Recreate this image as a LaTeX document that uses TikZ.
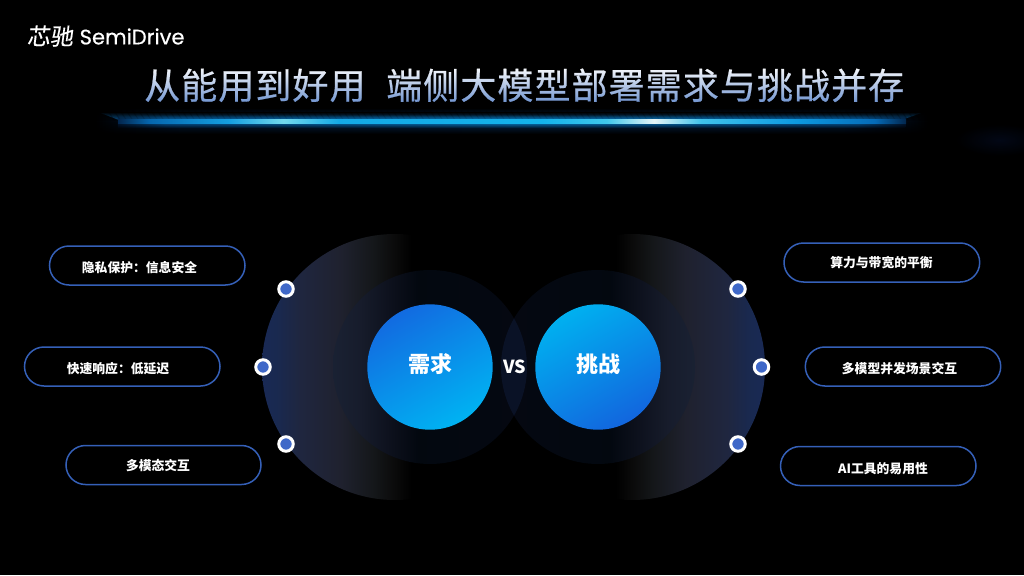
\documentclass[tikz,border=0pt]{standalone}
\usepackage{fontspec}
\setmainfont{Noto Sans CJK SC}
\newfontfamily\latinlogo[FakeBold=0.5]{Poppins}
\newfontfamily\brushlogo[FakeSlant=0.12,FakeBold=0.3]{Noto Sans CJK SC}
\newfontfamily\titlefont[FakeBold=0.6,LetterSpace=3]{Noto Sans CJK SC}
\usetikzlibrary{fadings,shadings}
\definecolor{pillblue}{HTML}{3560B8}
\definecolor{dotblue}{HTML}{3F68C8}
\pgfdeclarehorizontalshading{bigL}{100bp}{
  rgb(0bp)=(0.10,0.16,0.33);
  rgb(25bp)=(0.10,0.16,0.33);
  rgb(28bp)=(0.10,0.16,0.31);
  rgb(32bp)=(0.12,0.15,0.25);
  rgb(40bp)=(0.12,0.13,0.18);
  rgb(46bp)=(0.08,0.09,0.10);
  rgb(50bp)=(0.04,0.04,0.04);
  rgb(53bp)=(0,0,0);
  rgb(100bp)=(0,0,0)}
\pgfdeclarehorizontalshading{bigR}{100bp}{
  rgb(0bp)=(0,0,0);
  rgb(47bp)=(0,0,0);
  rgb(50bp)=(0.04,0.04,0.04);
  rgb(54bp)=(0.08,0.09,0.10);
  rgb(60bp)=(0.12,0.13,0.18);
  rgb(68bp)=(0.12,0.15,0.25);
  rgb(72bp)=(0.10,0.16,0.31);
  rgb(75bp)=(0.10,0.16,0.33);
  rgb(100bp)=(0.10,0.16,0.33)}
\pgfdeclarehorizontalshading{midL}{100bp}{
  rgb(0bp)=(0.10,0.13,0.20);
  rgb(25bp)=(0.10,0.13,0.20);
  rgb(32bp)=(0.09,0.11,0.17);
  rgb(40bp)=(0.05,0.065,0.11);
  rgb(47bp)=(0.01,0.03,0.06);
  rgb(75bp)=(0.02,0.03,0.07);
  rgb(100bp)=(0.02,0.03,0.07)}
\pgfdeclarehorizontalshading{midR}{100bp}{
  rgb(0bp)=(0.02,0.03,0.07);
  rgb(25bp)=(0.02,0.03,0.07);
  rgb(53bp)=(0.01,0.03,0.06);
  rgb(60bp)=(0.05,0.065,0.11);
  rgb(68bp)=(0.09,0.11,0.17);
  rgb(75bp)=(0.10,0.13,0.20);
  rgb(100bp)=(0.10,0.13,0.20)}
\pgfdeclarehorizontalshading{barcore}{100bp}{
  rgb(0bp)=(0,0,0);
  rgb(25bp)=(0.01,0.15,0.30);
  rgb(27bp)=(0.02,0.40,0.68);
  rgb(32bp)=(0.08,0.62,0.88);
  rgb(35.5bp)=(0.45,0.85,0.93);
  rgb(39bp)=(0.08,0.66,0.90);
  rgb(52bp)=(0.08,0.70,0.92);
  rgb(56bp)=(0.25,0.78,0.92);
  rgb(59bp)=(0.90,0.96,0.97);
  rgb(62bp)=(0.25,0.76,0.92);
  rgb(68bp)=(0.05,0.60,0.88);
  rgb(73bp)=(0.02,0.42,0.72);
  rgb(75bp)=(0.01,0.15,0.30);
  rgb(100bp)=(0,0,0)}
\pgfdeclarehorizontalshading{barwide}{100bp}{
  rgb(0bp)=(0,0,0);
  rgb(25bp)=(0.01,0.10,0.22);
  rgb(28bp)=(0.02,0.36,0.62);
  rgb(50bp)=(0.03,0.52,0.80);
  rgb(72bp)=(0.02,0.36,0.62);
  rgb(75bp)=(0.01,0.10,0.22);
  rgb(100bp)=(0,0,0)}
\pgfdeclarehorizontalshading{barglow}{100bp}{
  rgb(0bp)=(0,0,0);
  rgb(25bp)=(0,0,0);
  rgb(30bp)=(0.01,0.10,0.22);
  rgb(50bp)=(0.02,0.16,0.32);
  rgb(70bp)=(0.01,0.10,0.22);
  rgb(75bp)=(0,0,0);
  rgb(100bp)=(0,0,0)}
\tikzfading[name=vband, top color=transparent!100, bottom color=transparent!100, middle color=transparent!0]
\tikzfading[name=blobfade, inner color=transparent!0, outer color=transparent!100]
\tikzset{
  x=1pt,y=-1pt,
  pill/.style={draw=pillblue,line width=1.5pt,rounded corners=19.5pt,fill=none},
  pilltext/.style={text=white,font=\bfseries\fontsize{12.8}{14}\selectfont,inner sep=0pt},
  dotmark/.style={circle,draw=white,fill=dotblue,line width=3pt,minimum size=14.5pt,inner sep=0pt},
  coretext/.style={text=white,font=\bfseries\fontsize{22}{24}\selectfont,inner sep=0pt},
  titletext/.style={text=white,font=\titlefont\fontsize{36}{38}\selectfont,inner sep=0pt,anchor=base west},
}
\begin{document}
\begin{tikzpicture}
\useasboundingbox (0,0) rectangle (1024,575);
\fill[black] (0,0) rectangle (1024,575);
% faint blob at the far right
\fill[color={rgb,1:red,0.012;green,0.03;blue,0.085},path fading=blobfade] (955,124) rectangle (1045,156);
% title light bar
\shade[shading=barglow,path fading=vband] (95,108) rectangle (930,134);
\shade[top color=black,bottom color={rgb,1:red,0.03;green,0.36;blue,0.62}] (98,112) -- (924,112) -- (896,122) -- (124,122) -- cycle;
\foreach \k in {0,...,130}{
  \draw[black,opacity=.25,line width=1pt] ({108+\k*6.2},111) -- ({114+\k*6.2},120);
}
\shade[shading=barwide,path fading=vband] (118,114.5) rectangle (906,128);
\shade[shading=barcore] (118,119.6) rectangle (906,123.2);
% logo
\node[text=white,inner sep=0pt,font=\brushlogo\fontsize{23}{24}\selectfont] (logocn) at (50,36) {芯驰};
\node[text=white,inner sep=0pt,font=\latinlogo\fontsize{21}{24}\selectfont,anchor=west] (logoen) at (79.5,36.5) {SemiDrive};
% title
\node[titletext] (title) at (144,99) {从能用到好用};
\node[titletext] (title2) at (386,99) {端侧大模型部署需求与挑战并存};
\begin{scope}[blend mode=multiply]
\shade[top color=white,bottom color={rgb,1:red,0.40;green,0.55;blue,0.80}] (130,66) rectangle (920,105);
\end{scope}
% big half circles
\begin{scope}
\clip (250,225) rectangle (412,510);
\shade[shading=bigL] (395,367) circle[radius=133];
\end{scope}
\begin{scope}
\clip (616,225) rectangle (775,510);
\shade[shading=bigR] (632,367) circle[radius=133];
\end{scope}
% middle circles
\shade[shading=midL] (430,367) circle[radius=97];
\shade[shading=midR] (598,367) circle[radius=97];
\begin{scope}
\clip (430,367) circle[radius=97];
\fill[color={rgb,1:red,0.04;green,0.07;blue,0.15}] (598,367) circle[radius=97];
\end{scope}
% core circles
\shade[top color={rgb,1:red,0.07;green,0.42;blue,0.88},middle color={rgb,1:red,0.03;green,0.60;blue,0.91},bottom color={rgb,1:red,0;green,0.70;blue,0.95},shading angle=30] (430,367) circle[radius=62.7];
\shade[top color={rgb,1:red,0;green,0.69;blue,0.94},middle color={rgb,1:red,0.01;green,0.65;blue,0.93},bottom color={rgb,1:red,0.07;green,0.40;blue,0.87},shading angle=30] (598,367) circle[radius=62.7];
\node[coretext] (need) at (430,364) {需求};
\node[coretext] (chal) at (598,364) {挑战};
\node[text=white,inner sep=0pt,font=\bfseries\fontsize{18}{20}\selectfont] (vs) at (514.5,366.5) {VS};
% dots
\node[dotmark] (d1) at (286,289) {};
\node[dotmark] (d2) at (263,367) {};
\node[dotmark] (d3) at (286,444) {};
\node[dotmark] (d4) at (738,289) {};
\node[dotmark] (d5) at (761.5,367) {};
\node[dotmark] (d6) at (738,444) {};
% pills
\draw[pill] (49.5,246) rectangle (245,285);
\node[pilltext] (p1) at (139.5,267.5) {隐私保护：信息安全};
\draw[pill] (24.5,347) rectangle (220,386);
\node[pilltext] (p2) at (118,368.5) {快速响应：低延迟};
\draw[pill] (66,445.5) rectangle (261,484.5);
\node[pilltext] (p3) at (158,465.5) {多模态交互};
\draw[pill] (784,243) rectangle (979.7,282);
\node[pilltext] (p4) at (881.5,262.5) {算力与带宽的平衡};
\draw[pill] (805.3,347) rectangle (1000.7,386);
\node[pilltext] (p5) at (899.5,368.5) {多模型并发场景交互};
\draw[pill] (780.5,446.5) rectangle (976,485.5);
\node[pilltext] (p6) at (883,468.5) {AI工具的易用性};
\end{tikzpicture}
\end{document}
